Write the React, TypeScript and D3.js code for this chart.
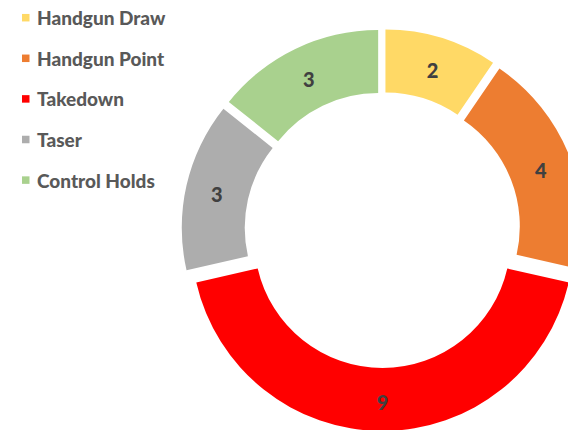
import React from "react";
import * as d3 from "d3";

const categories = ["Handgun Draw", "Handgun Point", "Takedown", "Taser", "Control Holds"];
const values = [2, 4, 9, 3, 3];
const colors = ["#FFD966", "#ED7D31", "#FF0000", "#ADADAD", "#A9D18E"];

const W = 568;
const H = 430;
const cx = 382.5;
const cy = 230;
const outerR = 191;
const innerR = 128;
const explode = 10;

export default function App() {
  const pie = d3
    .pie<number>()
    .sort(null)
    .value((d) => d)
    .startAngle(0)
    .endAngle(2 * Math.PI);
  const arcs = pie(values);
  const arcGen = d3.arc<d3.PieArcDatum<number>>().innerRadius(innerR).outerRadius(outerR);
  const labelR = (innerR + outerR) / 2 + 0.5;

  return (
    <svg
      width={W}
      height={H}
      style={{ position: "absolute", left: 0, top: 0, background: "#fff" }}
    >
      <g transform={`translate(${cx},${cy})`}>
        {arcs.map((a, i) => {
          const mid = (a.startAngle + a.endAngle) / 2;
          const dx = Math.sin(mid) * explode;
          const dy = -Math.cos(mid) * explode;
          const lx = Math.sin(mid) * labelR;
          const ly = -Math.cos(mid) * labelR + 2;
          return (
            <g key={i} transform={`translate(${dx},${dy})`}>
              <path d={arcGen(a) || ""} fill={colors[i]} />
              <text
                x={lx}
                y={ly}
                textAnchor="middle"
                dominantBaseline="central"
                fontFamily="Lato, 'Open Sans', sans-serif"
                fontWeight={900}
                fontSize={20}
                fill="#404040"
              >
                {values[i]}
              </text>
            </g>
          );
        })}
      </g>
      <g>
        {categories.map((c, i) => {
          const yc = 17.7 + i * 40.6;
          return (
            <g key={c}>
              <rect x={22} y={yc - 3.75} width={7.5} height={7.5} fill={colors[i]} />
              <text
                x={37}
                y={yc}
                dominantBaseline="central"
                fontFamily="Lato, 'Open Sans', sans-serif"
                fontWeight={900}
                fontSize={19}
                fill="#595959"
              >
                {c}
              </text>
            </g>
          );
        })}
      </g>
    </svg>
  );
}
